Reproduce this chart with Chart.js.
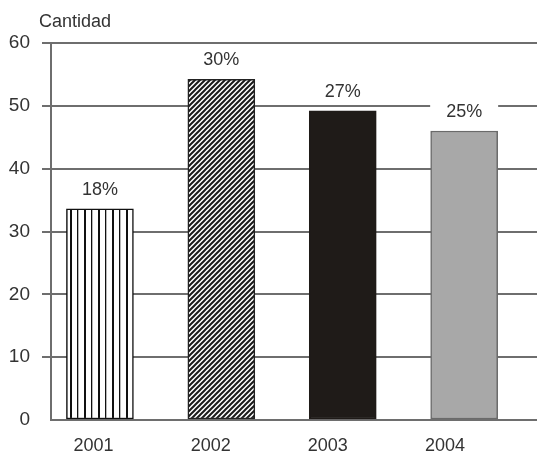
<!DOCTYPE html>
<html>
<head>
<meta charset="utf-8">
<script src="https://cdn.jsdelivr.net/npm/chart.js@4.4.1/dist/chart.umd.min.js"></script>
<style>
  body { margin: 0; background: #fff; }
  canvas { display: block; }
</style>
</head>
<body>
<canvas id="grafico" width="537" height="452"></canvas>
<script>
// datos del gráfico
var anios = ['2001', '2002', '2003', '2004'];
var cantidades = [33.6, 54.2, 49.2, 46.0];
var porcentajes = ['18%', '30%', '27%', '25%'];
var ticksY = [0, 10, 20, 30, 40, 50, 60];

var GRIS = '#6e6e6e';
var TEXTO = '#333333';
var FUENTE = '"Liberation Sans", Arial, sans-serif';

// tramas de relleno
function tramaVertical() {
    var c = document.createElement('canvas');
    c.width = 14; c.height = 4;
    var g = c.getContext('2d');
    g.fillStyle = '#fff'; g.fillRect(0, 0, 14, 4);
    g.fillStyle = '#111';
    g.fillRect(0, 0, 2, 4);
    g.fillRect(7, 0, 1.3, 4);
    return g.createPattern(c, 'repeat');
}

function tramaDiagonal() {
    var s = 5;
    var c = document.createElement('canvas');
    c.width = s; c.height = s;
    var g = c.getContext('2d');
    g.fillStyle = '#fff'; g.fillRect(0, 0, s, s);
    g.strokeStyle = '#1a1a1a';
    g.lineWidth = 2;
    g.beginPath();
    g.moveTo(0, s); g.lineTo(s, 0);
    g.moveTo(-1, 1); g.lineTo(1, -1);
    g.moveTo(s - 1, s + 1); g.lineTo(s + 1, s - 1);
    g.stroke();
    return g.createPattern(c, 'repeat');
}

var rellenos = [tramaVertical(), tramaDiagonal(), '#1f1b18', '#a8a8a8'];
var bordes = ['#111', '#222', '#1f1b18', '#6a6a6a'];

// etiquetas de porcentaje sobre las barras, con fondo blanco
var etiquetasPlugin = {
    id: 'etiquetas',
    afterDatasetsDraw: function (chart) {
        var ctx = chart.ctx;
        var meta = chart.getDatasetMeta(0);
        ctx.save();
        ctx.font = '18px ' + FUENTE;
        ctx.textAlign = 'center';
        ctx.textBaseline = 'middle';
        meta.data.forEach(function (barra, i) {
            var y = barra.y - 19;
            ctx.fillStyle = '#fff';
            ctx.fillRect(barra.x - 34, y - 11, 68, 22);
            ctx.fillStyle = TEXTO;
            ctx.fillText(porcentajes[i], barra.x, y);
        });
        ctx.restore();
    }
};

// titulo del eje Y
var tituloPlugin = {
    id: 'tituloEje',
    afterDraw: function (chart) {
        var ctx = chart.ctx;
        ctx.save();
        ctx.font = '18px ' + FUENTE;
        ctx.fillStyle = TEXTO;
        ctx.textAlign = 'left';
        ctx.textBaseline = 'middle';
        ctx.fillText('Cantidad', 39, 22);
        ctx.restore();
    }
};

var datos = anios.map(function (a, i) {
    return { x: i + 1, y: cantidades[i] };
});

new Chart(document.getElementById('grafico'), {
    type: 'bar',
    data: {
        datasets: [{
            data: datos,
            xAxisID: 'x',
            yAxisID: 'y',
            backgroundColor: rellenos,
            borderColor: bordes,
            borderWidth: 1.5,
            borderSkipped: false,
            barThickness: 67
        }]
    },
    options: {
        responsive: false,
        animation: false,
        devicePixelRatio: 1,
        layout: { padding: { top: 43, left: 0, right: 0, bottom: 0 } },
        plugins: {
            legend: { display: false },
            tooltip: { enabled: false }
        },
        scales: {
            x: {
                type: 'linear',
                display: false,
                offset: false,
                min: 0.597,
                max: 4.6
            },
            etiquetasX: {
                type: 'linear',
                position: 'bottom',
                axis: 'x',
                offset: false,
                min: 0.637,
                max: 4.785,
                grid: { display: false, drawTicks: false, offset: false },
                border: { display: false },
                afterBuildTicks: function (scale) {
                    scale.ticks = anios.map(function (a, i) { return { value: i + 1 }; });
                },
                afterFit: function (scale) { scale.height = 32; },
                ticks: {
                    autoSkip: false,
                    maxRotation: 0,
                    padding: 15,
                    color: TEXTO,
                    font: { family: FUENTE, size: 18 },
                    callback: function (v) { return anios[Math.round(v) - 1]; }
                }
            },
            y: {
                min: 0,
                max: 60,
                afterBuildTicks: function (scale) {
                    scale.ticks = ticksY.map(function (v) { return { value: v }; });
                },
                afterFit: function (scale) { scale.width = 51; },
                grid: {
                    color: GRIS,
                    lineWidth: 2,
                    tickLength: 9,
                    tickColor: function (c) {
                        return c.tick && c.tick.value === 0 ? 'rgba(0,0,0,0)' : GRIS;
                    }
                },
                border: { display: true, color: GRIS, width: 2 },
                ticks: {
                    padding: 12,
                    color: TEXTO,
                    font: { family: FUENTE, size: 19 }
                }
            }
        }
    },
    plugins: [etiquetasPlugin, tituloPlugin]
});
</script>
</body>
</html>
